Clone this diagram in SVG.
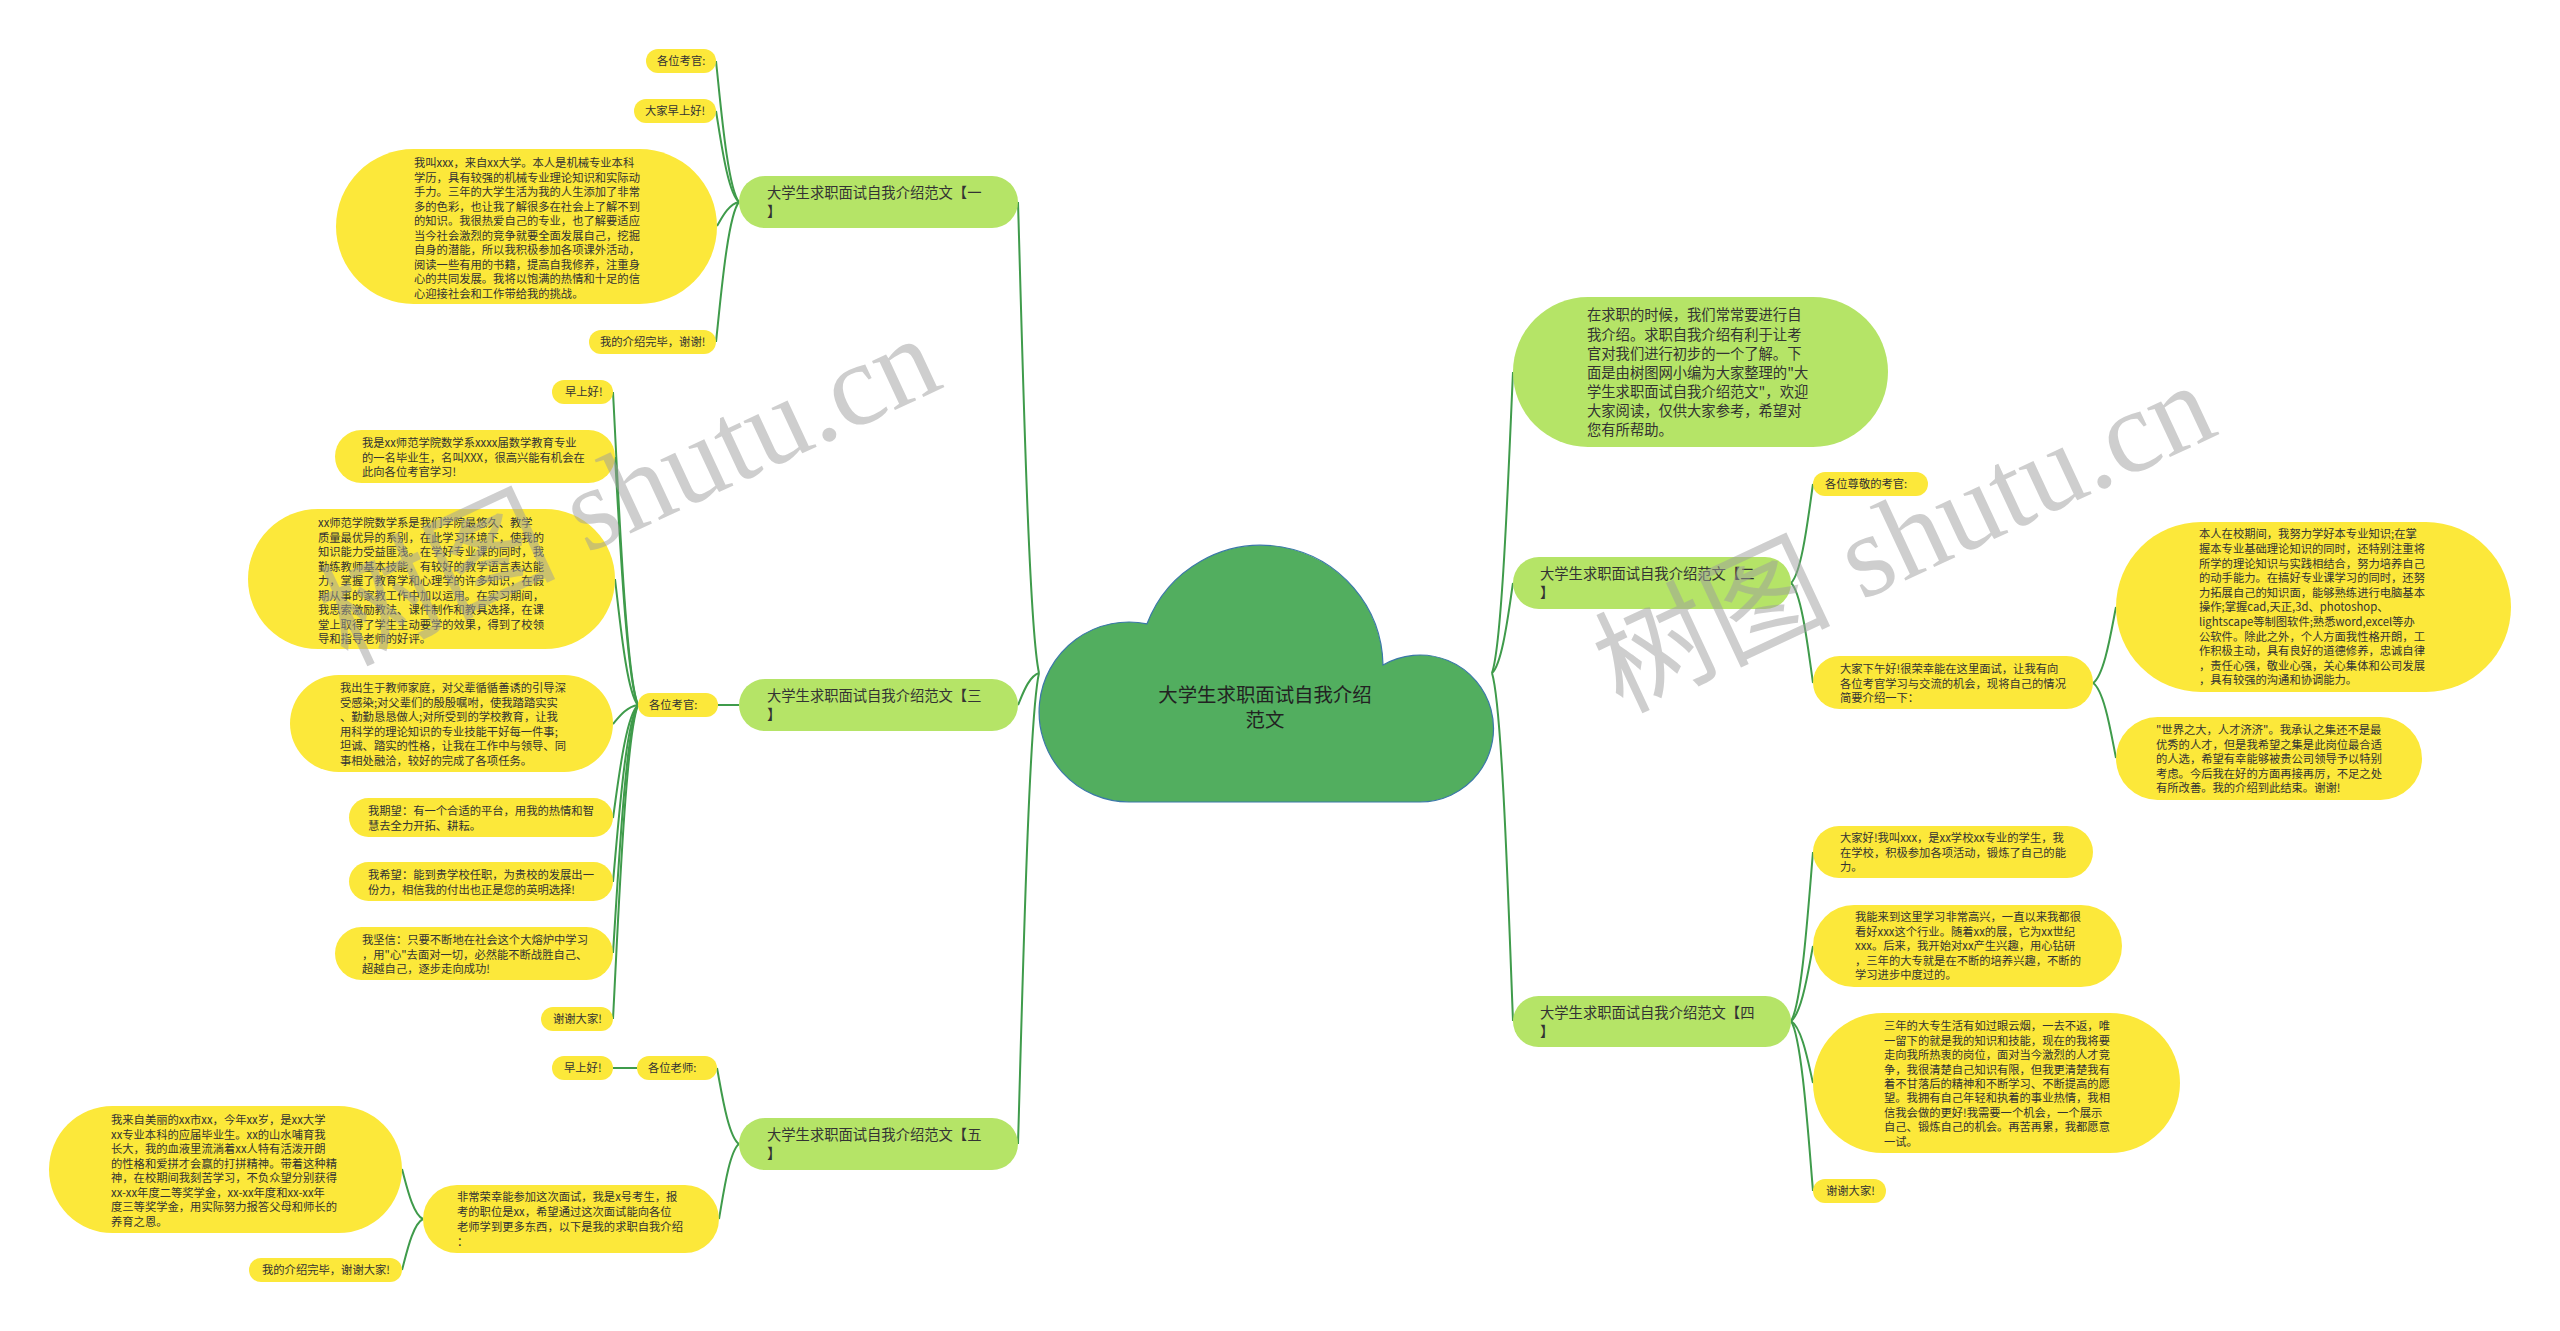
<svg xmlns="http://www.w3.org/2000/svg" width="2560" height="1331" viewBox="0 0 2560 1331">
<style>
.leaf{fill:#fce83a}
.br{fill:#b5e467}
.t{font-family:"Noto Sans CJK SC","Noto Sans",sans-serif;fill:#333}
.s{font-size:11.3px}
.m{font-size:14.3px}
.l{font-size:19.4px;fill:#222}
#connectors path{fill:none;stroke:#3f9b4b;stroke-width:2}
.wm{font-family:"Liberation Serif","Noto Sans CJK SC",serif;font-size:118px;fill:#9e9e9e;opacity:.5}
</style>
<rect width="2560" height="1331" fill="#fff"/>
<g id="connectors">
<path d="M1039 673C1028.5 625.9 1022.2 343.3 1018 202"/>
<path d="M1039 673C1028.5 676.2 1022.2 695.4 1018 705"/>
<path d="M1039 673C1028.5 720.1 1022.2 1002.7 1018 1144"/>
<path d="M1492 673C1502.5 642.9 1508.8 462.3 1513 372"/>
<path d="M1492 673C1502.5 664 1508.8 610 1513 583"/>
<path d="M1492 673C1502.5 707.8 1508.8 916.6 1513 1021"/>
<path d="M739 202C727.5 187.9 720.6 103.3 716 61"/>
<path d="M739 202C727.5 192.9 720.6 138.3 716 111"/>
<path d="M739 202C728 204.4 721.4 218.8 717 226"/>
<path d="M739 202C727.5 216 720.6 300 716 342"/>
<path d="M739 705L718 705"/>
<path d="M638 705C625.5 673.7 618 485.9 613 392"/>
<path d="M638 705C626.5 680.2 619.6 531.4 615 457"/>
<path d="M638 705C626.5 692.4 619.6 616.8 615 579"/>
<path d="M638 705C625.5 706.9 618 718.3 613 724"/>
<path d="M638 705C625.5 716.3 618 784.1 613 818"/>
<path d="M638 705C625.5 722.7 618 828.9 613 882"/>
<path d="M638 705C625.5 729.8 618 878.6 613 953"/>
<path d="M638 705C625.5 736.4 618 924.8 613 1019"/>
<path d="M739 1144C728 1136.4 721.4 1090.8 717 1068"/>
<path d="M739 1144C729 1151.5 723 1196.5 719 1219"/>
<path d="M637 1068L613 1068"/>
<path d="M423 1219C412.5 1214 406.2 1184 402 1169"/>
<path d="M423 1219C412.5 1224.1 406.2 1254.7 402 1270"/>
<path d="M1791 583C1802 573.1 1808.6 513.7 1813 484"/>
<path d="M1791 583C1802 593 1808.6 653 1813 683"/>
<path d="M2093 683C2104.5 675.4 2111.4 629.8 2116 607"/>
<path d="M2093 683C2104.5 690.5 2111.4 735.5 2116 758"/>
<path d="M1791 1021C1802 1004.1 1808.6 902.7 1813 852"/>
<path d="M1791 1021C1802 1013.5 1808.6 968.5 1813 946"/>
<path d="M1791 1021C1802 1027.2 1808.6 1064.4 1813 1083"/>
<path d="M1791 1021C1802 1038 1808.6 1140 1813 1191"/>
</g>
<g id="root">
<path d="M1129 802A90 90 0 1 1 1147 623.8A122 122 0 0 1 1383 665A73.5 73.5 0 1 1 1420 802Z" fill="#52ae5f" stroke="#3b78a8" stroke-width="1.2"/>
<text class="t l" text-anchor="middle"><tspan x="1265" y="702.4">大学生求职面试自我介绍</tspan><tspan x="1265" y="727.4">范文</tspan></text>
</g>
<g id="b1">
<rect class="br" x="739" y="176" width="279" height="52" rx="26"/>
<text class="t m"><tspan x="767" y="198.4">大学生求职面试自我介绍范文【一</tspan><tspan x="767" y="217.4">】</tspan></text>
</g>
<g id="b1a"><rect class="leaf" x="646" y="49" width="70" height="24" rx="12"/><text class="t s" x="657" y="65.3">各位考官:</text></g>
<g id="b1b"><rect class="leaf" x="634" y="99" width="82" height="24" rx="12"/><text class="t s" x="645" y="115.3">大家早上好!</text></g>
<g id="b1c"><rect class="leaf" x="336" y="149" width="381" height="155" rx="77.5"/>
<text class="t s"><tspan x="414" y="167.3">我叫xxx，来自xx大学。本人是机械专业本科</tspan><tspan x="414" y="181.8">学历，具有较强的机械专业理论知识和实际动</tspan><tspan x="414" y="196.3">手力。三年的大学生活为我的人生添加了非常</tspan><tspan x="414" y="210.8">多的色彩，也让我了解很多在社会上了解不到</tspan><tspan x="414" y="225.3">的知识。我很热爱自己的专业，也了解要适应</tspan><tspan x="414" y="239.8">当今社会激烈的竞争就要全面发展自己，挖掘</tspan><tspan x="414" y="254.3">自身的潜能，所以我积极参加各项课外活动，</tspan><tspan x="414" y="268.8">阅读一些有用的书籍，提高自我修养，注重身</tspan><tspan x="414" y="283.3">心的共同发展。我将以饱满的热情和十足的信</tspan><tspan x="414" y="297.8">心迎接社会和工作带给我的挑战。</tspan></text></g>
<g id="b1d"><rect class="leaf" x="589" y="330" width="127" height="24" rx="12"/><text class="t s" x="600" y="346.3">我的介绍完毕，谢谢!</text></g>
<g id="b3">
<rect class="br" x="739" y="679" width="279" height="52" rx="26"/>
<text class="t m"><tspan x="767" y="701.4">大学生求职面试自我介绍范文【三</tspan><tspan x="767" y="720.4">】</tspan></text>
</g>
<g id="b3h"><rect class="leaf" x="638" y="693" width="80" height="24" rx="12"/><text class="t s" x="649" y="709.3">各位考官:</text></g>
<g id="b3a"><rect class="leaf" x="552" y="380" width="61" height="24" rx="12"/><text class="t s" x="565" y="396.3">早上好!</text></g>
<g id="b3b"><rect class="leaf" x="335" y="430" width="280" height="53" rx="26.5"/>
<text class="t s"><tspan x="362" y="447.3">我是xx师范学院数学系xxxx届数学教育专业</tspan><tspan x="362" y="461.8">的一名毕业生，名叫XXX，很高兴能有机会在</tspan><tspan x="362" y="476.3">此向各位考官学习!</tspan></text></g>
<g id="b3c"><rect class="leaf" x="248" y="509" width="367" height="140" rx="70"/>
<text class="t s"><tspan x="318" y="527.3">xx师范学院数学系是我们学院最悠久、教学</tspan><tspan x="318" y="541.8">质量最优异的系别，在此学习环境下，使我的</tspan><tspan x="318" y="556.3">知识能力受益匪浅。在学好专业课的同时，我</tspan><tspan x="318" y="570.8">勤练教师基本技能，有较好的教学语言表达能</tspan><tspan x="318" y="585.3">力，掌握了教育学和心理学的许多知识，在假</tspan><tspan x="318" y="599.8">期从事的家教工作中加以运用。在实习期间，</tspan><tspan x="318" y="614.3">我思索激励教法、课件制作和教具选择，在课</tspan><tspan x="318" y="628.8">堂上取得了学生主动要学的效果，得到了校领</tspan><tspan x="318" y="643.3">导和指导老师的好评。</tspan></text></g>
<g id="b3d"><rect class="leaf" x="290" y="675" width="323" height="97" rx="48.5"/>
<text class="t s"><tspan x="340" y="692.3">我出生于教师家庭，对父辈循循善诱的引导深</tspan><tspan x="340" y="706.8">受感染;对父辈们的殷殷嘱咐，使我踏踏实实</tspan><tspan x="340" y="721.3">、勤勤恳恳做人;对所受到的学校教育，让我</tspan><tspan x="340" y="735.8">用科学的理论知识的专业技能干好每一件事;</tspan><tspan x="340" y="750.3">坦诚、踏实的性格，让我在工作中与领导、同</tspan><tspan x="340" y="764.8">事相处融洽，较好的完成了各项任务。</tspan></text></g>
<g id="b3e"><rect class="leaf" x="349" y="798" width="264" height="39" rx="19.5"/>
<text class="t s"><tspan x="368" y="815.3">我期望：有一个合适的平台，用我的热情和智</tspan><tspan x="368" y="829.8">慧去全力开拓、耕耘。</tspan></text></g>
<g id="b3f"><rect class="leaf" x="349" y="862" width="264" height="39" rx="19.5"/>
<text class="t s"><tspan x="368" y="879.3">我希望：能到贵学校任职，为贵校的发展出一</tspan><tspan x="368" y="893.8">份力，相信我的付出也正是您的英明选择!</tspan></text></g>
<g id="b3g"><rect class="leaf" x="335" y="927" width="278" height="53" rx="26.5"/>
<text class="t s"><tspan x="362" y="944.3">我坚信：只要不断地在社会这个大熔炉中学习</tspan><tspan x="362" y="958.8">，用"心"去面对一切，必然能不断战胜自己、</tspan><tspan x="362" y="973.3">超越自己，逐步走向成功!</tspan></text></g>
<g id="b3i"><rect class="leaf" x="541" y="1007" width="72" height="24" rx="12"/><text class="t s" x="553" y="1023.3">谢谢大家!</text></g>
<g id="b5">
<rect class="br" x="739" y="1118" width="279" height="52" rx="26"/>
<text class="t m"><tspan x="767" y="1140.4">大学生求职面试自我介绍范文【五</tspan><tspan x="767" y="1159.4">】</tspan></text>
</g>
<g id="b5h"><rect class="leaf" x="637" y="1056" width="80" height="24" rx="12"/><text class="t s" x="648" y="1072.3">各位老师:</text></g>
<g id="b5a"><rect class="leaf" x="552" y="1056" width="61" height="24" rx="12"/><text class="t s" x="564" y="1072.3">早上好!</text></g>
<g id="b5b"><rect class="leaf" x="423" y="1185" width="296" height="68" rx="34"/>
<text class="t s"><tspan x="457" y="1201.3">非常荣幸能参加这次面试，我是x号考生，报</tspan><tspan x="457" y="1216.1">考的职位是xx，希望通过这次面试能向各位</tspan><tspan x="457" y="1230.9">老师学到更多东西，以下是我的求职自我介绍</tspan><tspan x="457" y="1245.7">：</tspan></text></g>
<g id="b5c"><rect class="leaf" x="49" y="1106" width="353" height="127" rx="63.5"/>
<text class="t s"><tspan x="111" y="1124.3">我来自美丽的xx市xx，今年xx岁，是xx大学</tspan><tspan x="111" y="1138.8">xx专业本科的应届毕业生。xx的山水哺育我</tspan><tspan x="111" y="1153.3">长大，我的血液里流淌着xx人特有活泼开朗</tspan><tspan x="111" y="1167.8">的性格和爱拼才会赢的打拼精神。带着这种精</tspan><tspan x="111" y="1182.3">神，在校期间我刻苦学习，不负众望分别获得</tspan><tspan x="111" y="1196.8">xx-xx年度二等奖学金，xx-xx年度和xx-xx年</tspan><tspan x="111" y="1211.3">度三等奖学金，用实际努力报答父母和师长的</tspan><tspan x="111" y="1225.8">养育之恩。</tspan></text></g>
<g id="b5d"><rect class="leaf" x="249" y="1258" width="153" height="24" rx="12"/><text class="t s" x="262" y="1274.3">我的介绍完毕，谢谢大家!</text></g>
<g id="intro"><rect class="br" x="1513" y="297" width="375" height="150" rx="75"/>
<text class="t m"><tspan x="1587" y="320.4">在求职的时候，我们常常要进行自</tspan><tspan x="1587" y="339.5">我介绍。求职自我介绍有利于让考</tspan><tspan x="1587" y="358.6">官对我们进行初步的一个了解。下</tspan><tspan x="1587" y="377.7">面是由树图网小编为大家整理的"大</tspan><tspan x="1587" y="396.8">学生求职面试自我介绍范文"，欢迎</tspan><tspan x="1587" y="415.9">大家阅读，仅供大家参考，希望对</tspan><tspan x="1587" y="435">您有所帮助。</tspan></text></g>
<g id="b2">
<rect class="br" x="1513" y="557" width="278" height="52" rx="26"/>
<text class="t m"><tspan x="1540" y="579.4">大学生求职面试自我介绍范文【二</tspan><tspan x="1540" y="598.4">】</tspan></text>
</g>
<g id="b2a"><rect class="leaf" x="1813" y="472" width="115" height="24" rx="12"/><text class="t s" x="1825" y="488.3">各位尊敬的考官:</text></g>
<g id="b2b"><rect class="leaf" x="1813" y="656" width="280" height="53" rx="26.5"/>
<text class="t s"><tspan x="1840" y="673.3">大家下午好!很荣幸能在这里面试，让我有向</tspan><tspan x="1840" y="687.8">各位考官学习与交流的机会，现将自己的情况</tspan><tspan x="1840" y="702.3">简要介绍一下：</tspan></text></g>
<g id="b2c"><rect class="leaf" x="2116" y="522" width="395" height="170" rx="85"/>
<text class="t s"><tspan x="2199" y="538.3">本人在校期间，我努力学好本专业知识;在掌</tspan><tspan x="2199" y="552.9">握本专业基础理论知识的同时，还特别注重将</tspan><tspan x="2199" y="567.5">所学的理论知识与实践相结合，努力培养自己</tspan><tspan x="2199" y="582.1">的动手能力。在搞好专业课学习的同时，还努</tspan><tspan x="2199" y="596.7">力拓展自己的知识面，能够熟练进行电脑基本</tspan><tspan x="2199" y="611.3">操作;掌握cad,天正,3d、photoshop、</tspan><tspan x="2199" y="625.9">lightscape等制图软件;熟悉word,excel等办</tspan><tspan x="2199" y="640.5">公软件。除此之外，个人方面我性格开朗，工</tspan><tspan x="2199" y="655.1">作积极主动，具有良好的道德修养，忠诚自律</tspan><tspan x="2199" y="669.7">，责任心强，敬业心强，关心集体和公司发展</tspan><tspan x="2199" y="684.3">，具有较强的沟通和协调能力。</tspan></text></g>
<g id="b2d"><rect class="leaf" x="2116" y="717" width="306" height="83" rx="41.5"/>
<text class="t s"><tspan x="2156" y="734.3">"世界之大，人才济济"。我承认之集还不是最</tspan><tspan x="2156" y="748.8">优秀的人才，但是我希望之集是此岗位最合适</tspan><tspan x="2156" y="763.3">的人选，希望有幸能够被贵公司领导予以特别</tspan><tspan x="2156" y="777.8">考虑。今后我在好的方面再接再厉，不足之处</tspan><tspan x="2156" y="792.3">有所改善。我的介绍到此结束。谢谢!</tspan></text></g>
<g id="b4">
<rect class="br" x="1513" y="996" width="278" height="51" rx="25.5"/>
<text class="t m"><tspan x="1540" y="1018.4">大学生求职面试自我介绍范文【四</tspan><tspan x="1540" y="1037.4">】</tspan></text>
</g>
<g id="b4a"><rect class="leaf" x="1813" y="826" width="280" height="52" rx="26"/>
<text class="t s"><tspan x="1840" y="842.3">大家好!我叫xxx，是xx学校xx专业的学生，我</tspan><tspan x="1840" y="856.8">在学校，积极参加各项活动，锻炼了自己的能</tspan><tspan x="1840" y="871.3">力。</tspan></text></g>
<g id="b4b"><rect class="leaf" x="1813" y="905" width="309" height="82" rx="41"/>
<text class="t s"><tspan x="1855" y="921.3">我能来到这里学习非常高兴，一直以来我都很</tspan><tspan x="1855" y="935.8">看好xxx这个行业。随着xx的展，它为xx世纪</tspan><tspan x="1855" y="950.3">xxx。后来，我开始对xx产生兴趣，用心钻研</tspan><tspan x="1855" y="964.8">，三年的大专就是在不断的培养兴趣，不断的</tspan><tspan x="1855" y="979.3">学习进步中度过的。</tspan></text></g>
<g id="b4c"><rect class="leaf" x="1813" y="1013" width="367" height="140" rx="70"/>
<text class="t s"><tspan x="1884" y="1030.3">三年的大专生活有如过眼云烟，一去不返，唯</tspan><tspan x="1884" y="1044.7">一留下的就是我的知识和技能，现在的我将要</tspan><tspan x="1884" y="1059.1">走向我所热衷的岗位，面对当今激烈的人才竞</tspan><tspan x="1884" y="1073.5">争，我很清楚自己知识有限，但我更清楚我有</tspan><tspan x="1884" y="1087.9">着不甘落后的精神和不断学习、不断提高的愿</tspan><tspan x="1884" y="1102.3">望。我拥有自己年轻和执着的事业热情，我相</tspan><tspan x="1884" y="1116.7">信我会做的更好!我需要一个机会，一个展示</tspan><tspan x="1884" y="1131.1">自己、锻炼自己的机会。再苦再累，我都愿意</tspan><tspan x="1884" y="1145.5">一试。</tspan></text></g>
<g id="b4d"><rect class="leaf" x="1813" y="1179" width="73" height="24" rx="12"/><text class="t s" x="1826" y="1195.3">谢谢大家!</text></g>
<g id="watermarks">
<text class="wm" transform="translate(346 666) rotate(-25)">树图 shutu.cn</text>
<text class="wm" transform="translate(1621 713) rotate(-25)">树图 shutu.cn</text>
</g>
</svg>
